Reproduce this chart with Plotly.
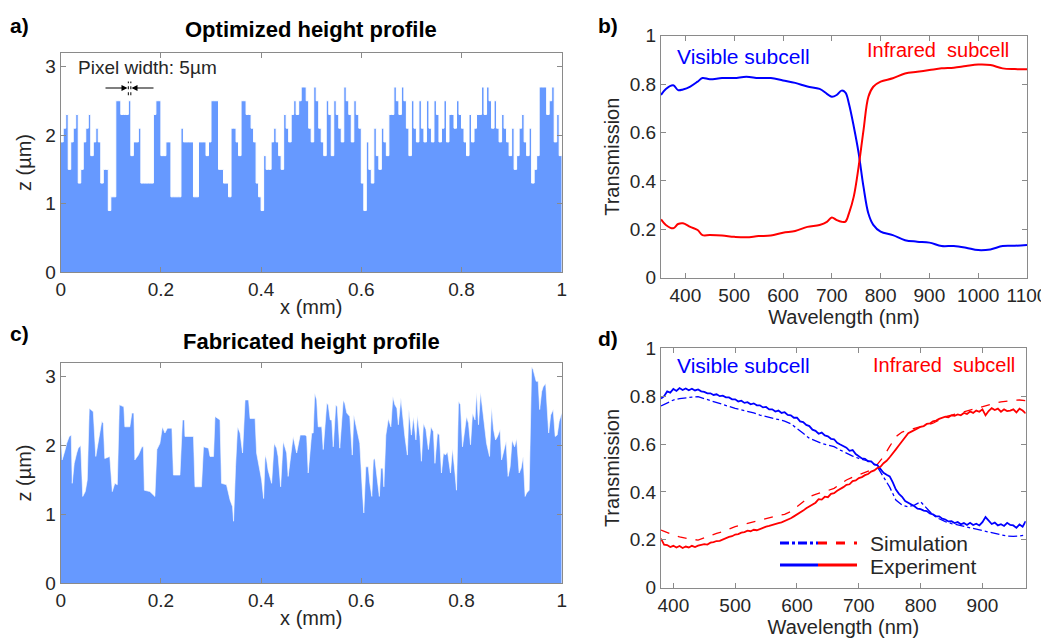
import plotly.graph_objects as go

# --- Data ---
PIXEL_WIDTH_MM = 0.005

# a) designed height profile, one value per 5 um pixel (um)
OPT_HEIGHT = [
    1.9, 2.1, 2.3, 1.5, 1.9, 2.1, 2.3, 1.3, 1.5, 1.9,
    2.1, 2.3, 1.7, 1.9, 2.1, 1.9, 1.3, 1.5, 1.5, 0.9,
    1.1, 1.1, 2.5, 2.5, 2.3, 2.3, 2.3, 2.5, 1.7, 1.9,
    1.9, 2.1, 1.3, 1.3, 1.3, 1.3, 1.3, 2.3, 2.5, 2.5,
    1.7, 1.7, 1.9, 1.9, 1.1, 1.1, 1.1, 1.1, 2.1, 1.9,
    1.9, 1.9, 1.9, 1.1, 1.1, 1.9, 1.9, 1.9, 1.7, 1.9,
    2.5, 2.5, 2.5, 1.5, 1.5, 1.3, 1.3, 1.1, 2.1, 2.1,
    1.9, 1.7, 2.5, 2.5, 2.3, 2.3, 2.1, 1.9, 1.3, 1.1,
    0.9, 1.7, 1.5, 1.5, 1.9, 2.1, 1.9, 1.7, 1.5, 2.3,
    2.1, 1.9, 2.3, 2.5, 2.3, 2.5, 2.7, 2.7, 2.5, 2.1,
    1.9, 2.7, 2.5, 2.1, 1.9, 1.7, 2.5, 2.3, 1.7, 2.5,
    2.3, 2.1, 1.9, 2.7, 2.5, 2.3, 1.9, 2.5, 2.3, 2.1,
    1.3, 0.9, 1.9, 1.5, 1.3, 2.1, 1.7, 1.5, 2.1, 1.9,
    1.7, 2.3, 2.3, 2.7, 2.5, 2.3, 2.7, 2.5, 2.1, 1.7,
    2.5, 2.1, 1.9, 2.5, 2.1, 1.9, 2.5, 2.1, 1.9, 2.5,
    2.3, 1.9, 2.1, 2.5, 1.9, 2.3, 2.3, 2.1, 2.5, 2.3,
    2.1, 1.9, 1.7, 2.3, 1.9, 2.1, 2.3, 2.3, 2.7, 2.3,
    2.7, 2.5, 2.1, 2.5, 2.1, 1.9, 2.3, 2.1, 1.9, 1.7,
    2.1, 1.5, 1.7, 2.1, 2.3, 1.9, 1.7, 2.1, 1.3, 1.5,
    1.7, 2.7, 2.7, 2.7, 2.3, 2.5, 2.7, 1.9, 2.3, 1.7,
]

# c) fabricated (measured) height profile
FAB_X = [
    0.000, 0.003, 0.009, 0.012, 0.017, 0.021, 0.023, 0.027, 0.032, 0.035,
    0.040, 0.044, 0.049, 0.053, 0.057, 0.065, 0.070, 0.075, 0.079, 0.082,
    0.085, 0.088, 0.098, 0.103, 0.108, 0.113, 0.117, 0.126, 0.128, 0.138,
    0.142, 0.146, 0.148, 0.155, 0.162, 0.165, 0.167, 0.178, 0.188, 0.192,
    0.198, 0.203, 0.208, 0.213, 0.222, 0.225, 0.238, 0.243, 0.247, 0.248,
    0.265, 0.268, 0.281, 0.285, 0.295, 0.298, 0.305, 0.308, 0.318, 0.321,
    0.331, 0.338, 0.343, 0.345, 0.349, 0.353, 0.358, 0.363, 0.368, 0.375,
    0.378, 0.388, 0.391, 0.401, 0.405, 0.408, 0.411, 0.414, 0.421, 0.426,
    0.431, 0.434, 0.439, 0.444, 0.451, 0.454, 0.464, 0.471, 0.478, 0.488,
    0.491, 0.494, 0.501, 0.504, 0.507, 0.511, 0.514, 0.521, 0.524, 0.531,
    0.534, 0.538, 0.541, 0.544, 0.549, 0.552, 0.557, 0.564, 0.567, 0.571,
    0.577, 0.582, 0.585, 0.591, 0.597, 0.602, 0.605, 0.609, 0.614, 0.617,
    0.621, 0.624, 0.627, 0.632, 0.636, 0.639, 0.643, 0.645, 0.649, 0.654,
    0.659, 0.663, 0.667, 0.671, 0.674, 0.679, 0.683, 0.687, 0.692, 0.695,
    0.700, 0.704, 0.709, 0.712, 0.717, 0.720, 0.724, 0.729, 0.734, 0.739,
    0.744, 0.747, 0.752, 0.756, 0.760, 0.764, 0.768, 0.772, 0.778, 0.782,
    0.787, 0.790, 0.794, 0.798, 0.802, 0.806, 0.810, 0.814, 0.818, 0.822,
    0.827, 0.830, 0.834, 0.838, 0.842, 0.847, 0.850, 0.856, 0.860, 0.864,
    0.868, 0.872, 0.877, 0.880, 0.885, 0.889, 0.893, 0.897, 0.901, 0.906,
    0.910, 0.915, 0.919, 0.923, 0.927, 0.930, 0.935, 0.940, 0.943, 0.949,
    0.953, 0.956, 0.960, 0.963, 0.968, 0.971, 0.974, 0.978, 0.983, 0.987,
    0.991, 0.995, 1.000,
]
FAB_Z = [
    2.25, 1.79, 1.94, 2.03, 2.13, 2.15, 1.45, 1.74, 1.89, 1.96,
    2.00, 1.26, 1.33, 1.50, 2.54, 2.49, 1.84, 2.03, 2.18, 2.35,
    2.32, 1.81, 1.84, 1.33, 1.45, 1.43, 2.59, 2.56, 2.27, 2.27,
    2.47, 2.47, 1.79, 1.86, 1.98, 1.98, 1.35, 1.33, 1.26, 1.94,
    2.03, 2.27, 2.18, 2.25, 2.25, 1.57, 1.57, 2.37, 2.37, 2.13,
    2.13, 1.40, 1.40, 1.98, 1.96, 1.84, 1.84, 2.42, 2.37, 1.45,
    1.43, 1.21, 1.11, 0.90, 1.69, 2.27, 2.18, 1.89, 2.66, 2.66,
    2.39, 2.39, 1.89, 1.50, 1.23, 1.86, 1.79, 1.64, 1.45, 2.03,
    1.96, 1.84, 1.40, 2.06, 1.89, 1.55, 2.13, 1.89, 2.15, 2.15,
    2.13, 1.60, 2.18, 2.18, 2.76, 2.66, 2.27, 2.27, 1.94, 2.61,
    2.59, 2.37, 2.37, 1.98, 2.59, 2.56, 1.96, 2.66, 2.61, 2.47,
    2.42, 1.86, 2.44, 2.23, 2.03, 1.35, 1.02, 1.69, 1.69, 1.45,
    1.26, 1.79, 1.81, 1.50, 1.26, 1.67, 1.67, 1.40, 2.15, 2.39,
    2.27, 2.71, 2.59, 2.54, 2.30, 2.69, 2.37, 2.13, 1.86, 2.52,
    2.15, 2.42, 2.08, 2.44, 2.13, 1.77, 2.32, 2.23, 1.94, 2.27,
    2.20, 1.74, 2.18, 2.15, 1.60, 1.89, 1.86, 1.91, 1.60, 1.96,
    1.60, 1.35, 2.64, 2.59, 1.98, 2.23, 2.42, 2.32, 2.01, 2.47,
    2.37, 2.78, 2.30, 2.78, 2.52, 2.18, 2.03, 1.84, 2.56, 2.23,
    2.08, 2.13, 2.23, 1.79, 1.96, 2.06, 1.55, 1.69, 2.08, 1.98,
    2.10, 1.60, 1.67, 1.84, 1.26, 1.31, 1.35, 3.14, 3.10, 2.93,
    2.93, 2.52, 2.78, 2.85, 2.90, 2.42, 2.18, 2.44, 2.52, 2.13,
    2.15, 2.35, 2.47,
]

# b) simulated transmission of the optimized design
B_WL = [350, 360, 375, 385, 395, 410, 425, 435, 450, 475, 500, 525, 550, 575,
        600, 625, 650, 675, 690, 700, 710, 720, 728, 735, 745, 755, 765, 775,
        785, 800, 825, 850, 875, 900, 925, 950, 975, 1000, 1025, 1050, 1075, 1100]
B_VIS = [0.755, 0.78, 0.795, 0.775, 0.778, 0.79, 0.81, 0.825, 0.82, 0.825, 0.825,
         0.83, 0.825, 0.825, 0.815, 0.805, 0.79, 0.78, 0.76, 0.748, 0.755, 0.773,
         0.765, 0.72, 0.625, 0.515, 0.375, 0.265, 0.218, 0.19, 0.176, 0.155,
         0.149, 0.145, 0.131, 0.131, 0.124, 0.114, 0.117, 0.131, 0.132, 0.135]
B_IR = [0.241, 0.218, 0.204, 0.222, 0.225, 0.21, 0.197, 0.176, 0.176, 0.174, 0.169,
        0.167, 0.172, 0.174, 0.186, 0.193, 0.21, 0.218, 0.231, 0.249, 0.238, 0.231,
        0.232, 0.265, 0.335, 0.459, 0.61, 0.748, 0.789, 0.81, 0.824, 0.844,
        0.851, 0.858, 0.865, 0.868, 0.875, 0.881, 0.879, 0.865, 0.862, 0.861]

# d) simulation (10 nm steps)
D_WL_SIM = [380, 390, 400, 410, 420, 430, 440, 450, 460, 470, 480, 490, 500, 510,
            520, 530, 540, 550, 560, 570, 580, 590, 600, 610, 620, 630, 640, 650,
            660, 670, 680, 690, 700, 710, 720, 730, 740, 750, 760, 770, 780, 790,
            800, 810, 820, 830, 840, 850, 860, 870, 880, 890, 900, 910, 920, 930,
            940, 950, 960, 970]
D_VIS_SIM = [0.759, 0.772, 0.784, 0.79, 0.794, 0.796, 0.798, 0.79, 0.781, 0.772,
             0.763, 0.756, 0.749, 0.743, 0.738, 0.73, 0.721, 0.714, 0.707, 0.7,
             0.696, 0.685, 0.666, 0.645, 0.624, 0.612, 0.603, 0.596, 0.589, 0.575,
             0.561, 0.55, 0.54, 0.533, 0.526, 0.505, 0.464, 0.42, 0.366, 0.345,
             0.338, 0.345, 0.359, 0.33, 0.304, 0.288, 0.276, 0.268, 0.262, 0.255,
             0.248, 0.242, 0.237, 0.232, 0.227, 0.221, 0.216, 0.214, 0.216, 0.22]
D_IR_SIM = [0.241, 0.23, 0.22, 0.212, 0.206, 0.202, 0.199, 0.208, 0.22, 0.227,
            0.234, 0.245, 0.255, 0.262, 0.269, 0.276, 0.283, 0.29, 0.297, 0.302,
            0.306, 0.318, 0.338, 0.36, 0.38, 0.39, 0.397, 0.406, 0.415, 0.432,
            0.45, 0.462, 0.471, 0.482, 0.492, 0.515, 0.547, 0.59, 0.631, 0.65,
            0.659, 0.666, 0.673, 0.68, 0.687, 0.7, 0.714, 0.721, 0.728, 0.735,
            0.742, 0.75, 0.759, 0.765, 0.77, 0.776, 0.781, 0.783, 0.784, 0.781]

# d) experiment (5 nm steps, 380-970 nm)
D_WL_EXP = list(range(380, 971, 5))
D_VIS_EXP = [
    0.79, 0.80, 0.82, 0.815, 0.83, 0.822, 0.834, 0.826, 0.832, 0.825,
    0.831, 0.824, 0.828, 0.82, 0.818, 0.812, 0.812, 0.805, 0.808, 0.80,
    0.802, 0.795, 0.795, 0.787, 0.787, 0.778, 0.781, 0.772, 0.775, 0.766,
    0.77, 0.762, 0.762, 0.753, 0.755, 0.745, 0.745, 0.736, 0.74, 0.73,
    0.733, 0.722, 0.72, 0.71, 0.71, 0.695, 0.692, 0.68, 0.675, 0.66,
    0.655, 0.643, 0.648, 0.636, 0.632, 0.622, 0.62, 0.605, 0.598, 0.59,
    0.585, 0.572, 0.575, 0.558, 0.55, 0.54, 0.538, 0.528, 0.528, 0.515,
    0.512, 0.498, 0.48, 0.472, 0.465, 0.44, 0.41, 0.392, 0.38, 0.362,
    0.355, 0.345, 0.34, 0.33, 0.328, 0.322, 0.32, 0.31, 0.306, 0.298,
    0.298, 0.288, 0.285, 0.277, 0.278, 0.27, 0.274, 0.265, 0.27, 0.262,
    0.271, 0.262, 0.267, 0.26, 0.274, 0.295, 0.28, 0.266, 0.272, 0.26,
    0.265, 0.258, 0.271, 0.262, 0.26, 0.25, 0.264, 0.255, 0.278,
]
D_IR_EXP = [
    0.205, 0.18, 0.178, 0.17, 0.175, 0.168, 0.174, 0.166, 0.172, 0.168,
    0.175, 0.17, 0.176, 0.178, 0.182, 0.18, 0.188, 0.19, 0.195, 0.196,
    0.202, 0.205, 0.212, 0.215, 0.222, 0.224, 0.23, 0.232, 0.238, 0.236,
    0.242, 0.24, 0.246, 0.25, 0.255, 0.258, 0.263, 0.266, 0.27, 0.273,
    0.278, 0.285, 0.29, 0.298, 0.305, 0.315, 0.322, 0.332, 0.34, 0.35,
    0.355, 0.37, 0.368, 0.38, 0.378, 0.392, 0.395, 0.405, 0.412, 0.42,
    0.43, 0.432, 0.445, 0.448, 0.458, 0.462, 0.47, 0.475, 0.485, 0.49,
    0.5, 0.505, 0.52, 0.53, 0.545, 0.56, 0.578, 0.595, 0.612, 0.632,
    0.645, 0.652, 0.66, 0.665, 0.672, 0.675, 0.684, 0.686, 0.695, 0.698,
    0.705, 0.708, 0.714, 0.712, 0.72, 0.718, 0.724, 0.72, 0.73, 0.726,
    0.736, 0.73, 0.74, 0.735, 0.745, 0.72, 0.738, 0.75, 0.742, 0.748,
    0.735, 0.745, 0.738, 0.74, 0.745, 0.732, 0.748, 0.74, 0.728,
]

# --- Styling ---
FONT = "Liberation Sans, Arial, Helvetica, sans-serif"
FILL_BLUE = "#6699ff"
BLUE = "#0000ff"
RED = "#ff0000"
AXIS_GREY = "#8a8a8a"
TEXT = "#262626"
# the page body has an 8px margin, so the figure is sized/offset to fit the window
PAGE_OFFSET = 8
W, H = 1049 - PAGE_OFFSET, 641 - PAGE_OFFSET


def px(x):
    return (x - PAGE_OFFSET) / W


def py(y):
    return 1 - (y - PAGE_OFFSET) / H


def axis_style(**kw):
    d = dict(
        showline=True, linecolor=AXIS_GREY, linewidth=1, mirror="ticks",
        ticks="inside", ticklen=5, tickcolor=AXIS_GREY, showgrid=False,
        zeroline=False, automargin=False,
        tickfont=dict(family=FONT, size=19, color=TEXT),
        title_font=dict(family=FONT, size=20, color=TEXT),
    )
    d.update(kw)
    return d


fig = go.Figure()

# a) optimized profile as a stair-step area
opt_x = [i * PIXEL_WIDTH_MM for i in range(len(OPT_HEIGHT) + 1)]
opt_y = OPT_HEIGHT + [OPT_HEIGHT[-1]]
fig.add_trace(go.Scatter(x=opt_x, y=opt_y, mode="lines", line_shape="hv",
                         fill="tozeroy", fillcolor=FILL_BLUE,
                         line=dict(color="white", width=1),
                         xaxis="x", yaxis="y", showlegend=False))

# c) fabricated profile
fig.add_trace(go.Scatter(x=FAB_X, y=FAB_Z, mode="lines", fill="tozeroy",
                         fillcolor=FILL_BLUE, line=dict(color="white", width=0.6),
                         xaxis="x3", yaxis="y3", showlegend=False))

# b) simulated transmission
fig.add_trace(go.Scatter(x=B_WL, y=B_VIS, mode="lines", line=dict(color=BLUE, width=2),
                         line_shape="spline", xaxis="x2", yaxis="y2", showlegend=False))
fig.add_trace(go.Scatter(x=B_WL, y=B_IR, mode="lines", line=dict(color=RED, width=2),
                         line_shape="spline", xaxis="x2", yaxis="y2", showlegend=False))

# d) simulation vs experiment
fig.add_trace(go.Scatter(x=D_WL_SIM, y=D_VIS_SIM, mode="lines",
                         line=dict(color=BLUE, width=1.3, dash="dashdot"),
                         xaxis="x4", yaxis="y4", showlegend=False))
fig.add_trace(go.Scatter(x=D_WL_SIM, y=D_IR_SIM, mode="lines",
                         line=dict(color=RED, width=1.3, dash="dash"),
                         xaxis="x4", yaxis="y4", showlegend=False))
fig.add_trace(go.Scatter(x=D_WL_EXP, y=D_VIS_EXP, mode="lines",
                         line=dict(color=BLUE, width=1.8),
                         xaxis="x4", yaxis="y4", showlegend=False))
fig.add_trace(go.Scatter(x=D_WL_EXP, y=D_IR_EXP, mode="lines",
                         line=dict(color=RED, width=1.8),
                         xaxis="x4", yaxis="y4", showlegend=False))

MM_TICKS = dict(tickvals=[0, 0.2, 0.4, 0.6, 0.8, 1],
                ticktext=["0", "0.2", "0.4", "0.6", "0.8", "1"])
T_TICKS = dict(tickvals=[0, 0.2, 0.4, 0.6, 0.8, 1],
               ticktext=["0", "0.2", "0.4", "0.6", "0.8", "1"])

fig.update_layout(
    width=W, height=H, margin=dict(l=0, r=0, t=0, b=0),
    paper_bgcolor="white", plot_bgcolor="white",
    font=dict(family=FONT, color=TEXT),
    xaxis=axis_style(domain=[px(60.7), px(561.7)], range=[0, 1], anchor="y",
                     title=dict(text="x (mm)", standoff=0), **MM_TICKS),
    yaxis=axis_style(domain=[py(272.3), py(52.7)], range=[0, 3.2], anchor="x",
                     tickvals=[0, 1, 2, 3], title=dict(text="z (µm)", standoff=8)),
    xaxis3=axis_style(domain=[px(60.7), px(561.7)], range=[0, 1], anchor="y3",
                      title=dict(text="x (mm)", standoff=0), **MM_TICKS),
    yaxis3=axis_style(domain=[py(583.3), py(362.7)], range=[0, 3.2], anchor="x3",
                      tickvals=[0, 1, 2, 3], title=dict(text="z (µm)", standoff=8)),
    xaxis2=axis_style(domain=[px(661), px(1027)], range=[350, 1100], anchor="y2",
                      tickvals=list(range(400, 1101, 100)),
                      title=dict(text="Wavelength (nm)", standoff=0)),
    yaxis2=axis_style(domain=[py(277.7), py(35.7)], range=[0, 1], anchor="x2",
                      title=dict(text="Transmission", standoff=4), **T_TICKS),
    xaxis4=axis_style(domain=[px(661), px(1025.7)], range=[380, 970], anchor="y4",
                      tickvals=list(range(400, 901, 100)),
                      title=dict(text="Wavelength (nm)", standoff=0)),
    yaxis4=axis_style(domain=[py(587.7), py(348.3)], range=[0, 1], anchor="x4",
                      title=dict(text="Transmission", standoff=4), **T_TICKS),
)

annotations = []


def text(x, y, s, size=17, color=TEXT, bold=False, xanchor="left"):
    annotations.append(dict(
        x=px(x), y=py(y), xref="paper", yref="paper", text=f"<b>{s}</b>" if bold else s,
        showarrow=False, xanchor=xanchor, yanchor="middle",
        font=dict(family=FONT, size=size, color=color)))


# panel labels and titles
text(8, 26, "a)", size=21, bold=True, color="black")
text(596, 26, "b)", size=21, bold=True, color="black")
text(8, 334, "c)", size=21, bold=True, color="black")
text(596, 338, "d)", size=21, bold=True, color="black")
text(311, 30, "Optimized height profile", size=22, bold=True, color="black",
     xanchor="center")
text(311, 341, "Fabricated height profile", size=22, bold=True, color="black",
     xanchor="center")

# subcell labels
text(675, 57, "Visible subcell", size=21, color=BLUE)
text(865, 50, "Infrared  subcell", size=20, color=RED)
text(675, 365, "Visible subcell", size=21, color=BLUE)
text(871, 365, "Infrared  subcell", size=20, color=RED)

# pixel width annotation
text(76, 68, "Pixel width: 5µm", size=19)
for head, offset in [(127.5, -23.5), (131.5, 23.5)]:
    annotations.append(dict(
        x=px(head), y=py(88), xref="paper", yref="paper", ax=offset, ay=0,
        axref="pixel", ayref="pixel", text="", showarrow=True, arrowhead=2,
        arrowsize=1, arrowwidth=1.2, arrowcolor="black"))

# legend of panel d
text(868, 543, "Simulation", size=21)
text(868, 566, "Experiment", size=21)

shapes = []
for x0 in [0.135, 0.14]:
    shapes.append(dict(type="line", xref="x", yref="y", x0=x0, x1=x0, y0=2.58, y1=2.78,
                       line=dict(color="black", width=1, dash="dot")))
legend_rows = [
    (543, BLUE, "dashdot", 780, 818),
    (543, RED, "dash", 818, 857),
    (565, BLUE, "solid", 780, 818),
    (565, RED, "solid", 818, 857),
]
for y, c, d, x0, x1 in legend_rows:
    shapes.append(dict(type="line", xref="paper", yref="paper", x0=px(x0), x1=px(x1),
                       y0=py(y), y1=py(y), line=dict(color=c, width=3, dash=d)))

fig.update_layout(annotations=annotations, shapes=shapes)

fig.write_html("out.html")
